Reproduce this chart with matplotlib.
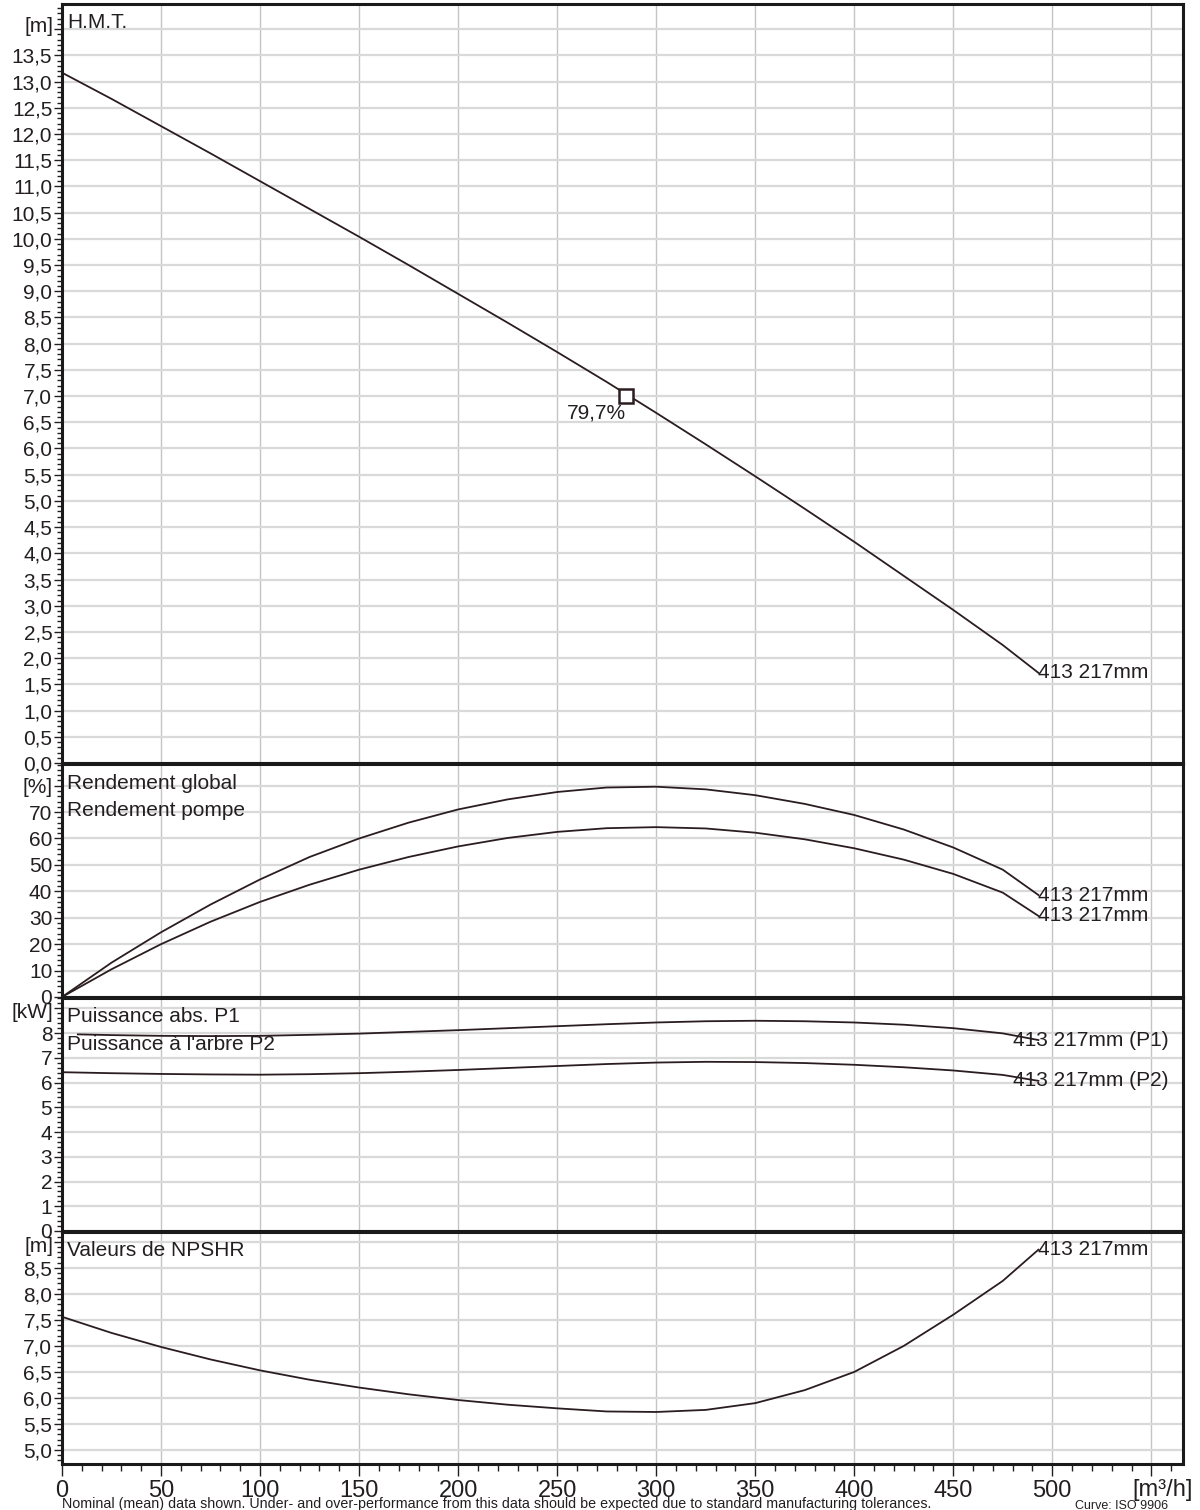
import numpy as np
import matplotlib.pyplot as plt
from matplotlib.ticker import MultipleLocator, FuncFormatter

plt.rcParams['font.family'] = ['Liberation Sans', 'DejaVu Sans']

#-------------------------------------------------------------------------------
#DATA

#flow steps used for most curves [m3/h]
q = [0, 25, 50, 75, 100, 125, 150, 175, 200, 225, 250, 275, 300, 325, 350,
     375, 400, 425, 450, 475, 493]

#head curve H.M.T. [m]
h = [13.17, 12.67, 12.15, 11.63, 11.1, 10.57, 10.04, 9.5, 8.95, 8.4, 7.84,
     7.27, 6.68, 6.08, 5.47, 4.85, 4.22, 3.57, 2.92, 2.25, 1.72]

#duty point
q_bep, h_bep, eta_label = 285, 7.0, '79,7%'

#efficiencies [%]
eta_pump = [0, 13, 24.5, 35, 44.5, 53, 60, 66, 71, 74.8, 77.6, 79.3, 79.6,
            78.6, 76.4, 73.1, 68.9, 63.4, 56.6, 48.2, 38.6]
eta_global = [0, 10.5, 20, 28.5, 36, 42.5, 48.2, 53, 57, 60.2, 62.5, 63.9,
              64.3, 63.8, 62.2, 59.7, 56.3, 52, 46.6, 39.5, 30.7]

#powers [kW]
q_p1 = [8] + q[1:]
p1 = [7.95, 7.92, 7.89, 7.88, 7.89, 7.93, 7.98, 8.05, 8.12, 8.2, 8.28, 8.36,
      8.43, 8.48, 8.5, 8.48, 8.43, 8.34, 8.2, 7.99, 7.72]
p2 = [6.42, 6.38, 6.35, 6.33, 6.32, 6.34, 6.38, 6.44, 6.51, 6.59, 6.67, 6.75,
      6.81, 6.84, 6.83, 6.79, 6.72, 6.62, 6.49, 6.31, 6.07]

#NPSHR [m]
npsh = [7.56, 7.25, 6.98, 6.74, 6.53, 6.35, 6.2, 6.07, 5.96, 5.87, 5.8, 5.74,
        5.73, 5.77, 5.9, 6.15, 6.5, 7.0, 7.6, 8.25, 8.85]

curve_label = '413 217mm'
footnote = ('Nominal (mean) data shown. Under- and over-performance from this data '
            'should be expected due to standard manufacturing tolerances.')

#-------------------------------------------------------------------------------
#LAYOUT

W, H = 1200, 1510
fig = plt.figure(figsize=(W/100, H/100), dpi=100)

def fx(px):
    return px/W

def fy(py):
    return 1 - py/H

left, right = 62, 1183
panels = [(4, 763), (764, 997), (998, 1231), (1232, 1464)]
ylims = [(0, 14.48), (0, 88.2), (0, 9.42), (4.73, 9.19)]
ymajor = [0.5, 10, 1, 0.5]
yminor = [0.1, 2, 0.2, 0.1]
ymaxlab = [13.5, 70, 8, 8.5]
units = ['[m]', '[%]', '[kW]', '[m]']
unit_y = [27, 787, 1012, 1246]
fmts = ['%.1f', '%d', '%d', '%.1f']

lc = '#2b1d1f'
tc = '#231f20'

axs = []
for i, (t, b) in enumerate(panels):
    ax = fig.add_axes([fx(left), fy(b), fx(right - left), (b - t)/H])
    ax.set_xlim(0, 566)
    ax.set_ylim(*ylims[i])
    ax.xaxis.set_major_locator(MultipleLocator(50))
    ax.xaxis.set_minor_locator(MultipleLocator(10))
    ax.xaxis.set_major_formatter(FuncFormatter(
        lambda v, p: '%d' % v if v <= 500 else ''))
    ax.yaxis.set_major_locator(MultipleLocator(ymajor[i]))
    ax.yaxis.set_minor_locator(MultipleLocator(yminor[i]))
    f = fmts[i]
    top = ymaxlab[i]
    ax.yaxis.set_major_formatter(FuncFormatter(
        lambda v, p, f=f, top=top: (f % v).replace('.', ',') if v <= top + 1e-6 else ''))
    ax.grid(True, axis='x', color='#c4c4c4', lw=1.0, zorder=0)
    ax.grid(True, axis='y', color='#d9d9d9', lw=1.6, zorder=0)
    ax.tick_params(axis='y', which='major', direction='out', length=5.5, width=1,
                   labelsize=15, pad=1.5, colors=tc)
    ax.tick_params(axis='y', which='minor', direction='out', length=3.5, width=1, colors=tc)
    ax.tick_params(axis='x', which='major', direction='out', length=8.5, width=1,
                   labelsize=17, pad=3, colors=tc)
    ax.tick_params(axis='x', which='minor', direction='out', length=5, width=1, colors=tc)
    if i < 3:
        ax.tick_params(axis='x', which='both', length=0, labelbottom=False)
    for s in ax.spines.values():
        s.set_linewidth(2.2)
        s.set_color('#1a1a1a')
    ax.set_axisbelow(True)
    fig.text(fx(53), fy(unit_y[i]), units[i], ha='right', va='center', fontsize=15, color=tc)
    axs.append(ax)

#H.M.T.
ax = axs[0]
ax.plot(q, h, color=lc, lw=1.3)
ax.plot([q_bep], [h_bep], 's', ms=10, mfc='white', mec=lc, mew=1.8, zorder=5)
ax.annotate(eta_label, (q_bep, h_bep), xytext=(0, -7), textcoords='offset pixels',
            ha='right', va='top', fontsize=15, color=tc)
ax.text(q[-1], h[-1], curve_label, ha='left', va='center', fontsize=15, color=tc)
fig.text(fx(67), fy(22), 'H.M.T.', ha='left', va='center', fontsize=15, color=tc)

#efficiencies
ax = axs[1]
ax.plot(q, eta_pump, color=lc, lw=1.3)
ax.plot(q, eta_global, color=lc, lw=1.3)
ax.text(q[-1], eta_pump[-1], curve_label, ha='left', va='center', fontsize=15, color=tc)
ax.text(q[-1], eta_global[-1], curve_label, ha='left', va='center', fontsize=15, color=tc)
fig.text(fx(67), fy(783), 'Rendement global', ha='left', va='center', fontsize=15, color=tc)
fig.text(fx(67), fy(811), 'Rendement pompe', ha='left', va='center', fontsize=15, color=tc)

#powers
ax = axs[2]
ax.plot(q_p1, p1, color=lc, lw=1.3)
ax.plot(q, p2, color=lc, lw=1.3)
ax.annotate(curve_label + ' (P1)', (q_p1[-1], p1[-1]), xytext=(-25, 0),
            textcoords='offset pixels', ha='left', va='center', fontsize=15, color=tc)
ax.annotate(curve_label + ' (P2)', (q[-1], p2[-1]), xytext=(-25, 0),
            textcoords='offset pixels', ha='left', va='center', fontsize=15, color=tc)
fig.text(fx(67), fy(1017), 'Puissance abs. P1', ha='left', va='center', fontsize=15, color=tc)
fig.text(fx(67), fy(1045), "Puissance à l'arbre P2", ha='left', va='center', fontsize=15, color=tc)

#NPSHR
ax = axs[3]
ax.plot(q, npsh, color=lc, lw=1.3)
ax.text(q[-1], npsh[-1], curve_label, ha='left', va='center', fontsize=15, color=tc)
fig.text(fx(67), fy(1250), 'Valeurs de NPSHR', ha='left', va='center', fontsize=15, color=tc)

fig.text(fx(1193), fy(1490), '[m³/h]', ha='right', va='center', fontsize=17, color=tc)
fig.text(fx(62), fy(1497), footnote, ha='left', va='top', fontsize=10.3, color=tc)
fig.text(fx(1075), fy(1500), 'Curve: ISO 9906', ha='left', va='top', fontsize=9, color=tc)

fig.savefig('out.png', dpi=100)
